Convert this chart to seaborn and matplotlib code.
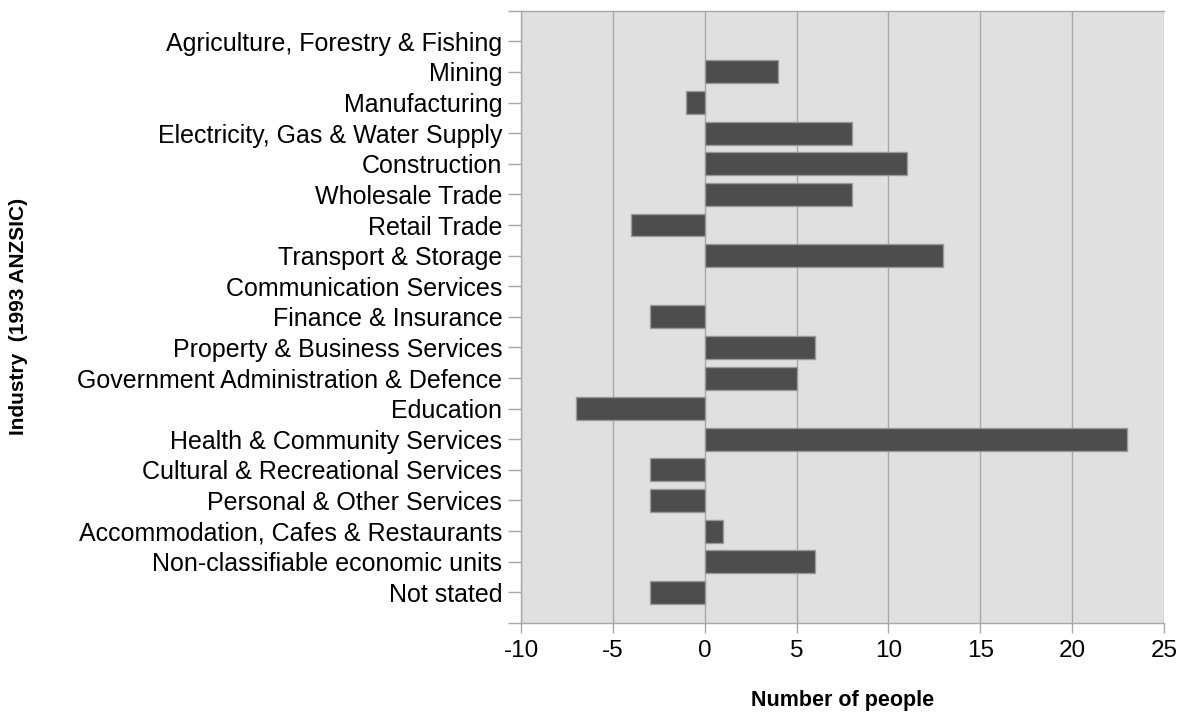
import matplotlib
matplotlib.use('Agg')
import matplotlib.pyplot as plt
import seaborn as sns
import pandas as pd

# Industry categories (top to bottom) and net change in number of people
industries = [
    'Agriculture, Forestry & Fishing', 'Mining', 'Manufacturing',
    'Electricity, Gas & Water Supply', 'Construction', 'Wholesale Trade',
    'Retail Trade', 'Transport & Storage', 'Communication Services',
    'Finance & Insurance', 'Property & Business Services',
    'Government Administration & Defence', 'Education',
    'Health & Community Services', 'Cultural & Recreational Services',
    'Personal & Other Services', 'Accommodation, Cafes & Restaurants',
    'Non-classifiable economic units', 'Not stated'
]
peopleChange = [0, 4, -1, 8, 11, 8, -4, 13, 0, -3, 6, 5, -7, 23, -3, -3, 1, 6, -3]
xTicks = [-10, -5, 0, 5, 10, 15, 20, 25]

df = pd.DataFrame({'industry': industries, 'people': peopleChange})

sns.set_style('white')
plt.rcParams['font.family'] = ['Liberation Sans', 'DejaVu Sans']
plt.rcParams['text.color'] = 'black'
plt.rcParams['axes.labelcolor'] = 'black'
plt.rcParams['xtick.labelcolor'] = 'black'
plt.rcParams['ytick.labelcolor'] = 'black'

gridGrey = '#a8a8a8'

fig = plt.figure(figsize=(11.87, 7.16), dpi=100)
ax = fig.add_axes([0.439, 0.130, 0.5415, 0.855])
ax.set_facecolor('#e0e0e0')

sns.barplot(data=df, x='people', y='industry', orient='h', color='#4d4d4d',
            saturation=1, width=0.75, edgecolor='#999999', linewidth=1,
            ax=ax, zorder=3)

# zero-valued bars should not leave a sliver of outline
for bar in ax.patches:
    if bar.get_width() == 0:
        bar.set_linewidth(0)

ax.set_xlim(-10, 25)
ax.set_xticks(xTicks)
ax.set_xticklabels([str(t) for t in xTicks])
ax.set_ylim(len(industries), -1)

ax.grid(axis='x', color=gridGrey, linewidth=1)
ax.set_axisbelow(True)

# extra ticks at the frame edges so top/bottom lines extend left
ax.set_yticks([-1, len(industries)], minor=True)
ax.tick_params(axis='y', which='both', length=9.5, width=1, color=gridGrey,
               pad=4, labelsize=18, left=True, labelcolor='black')
ax.tick_params(axis='x', length=7, width=1, color=gridGrey, pad=5,
               labelsize=17.5, bottom=True, labelcolor='black')

for side in ['left', 'top', 'bottom']:
    ax.spines[side].set_color(gridGrey)
    ax.spines[side].set_linewidth(1)
ax.spines['right'].set_visible(False)

ax.set_xlabel('Number of people', fontsize=15.5, fontweight='bold', color='black')
ax.set_ylabel('Industry  (1993 ANZSIC)', fontsize=15, fontweight='bold', color='black')
ax.xaxis.set_label_coords(0.5, -0.109)
ax.yaxis.set_label_coords(-0.767, 0.5)

plt.savefig('out.png', dpi=100)
plt.close()
